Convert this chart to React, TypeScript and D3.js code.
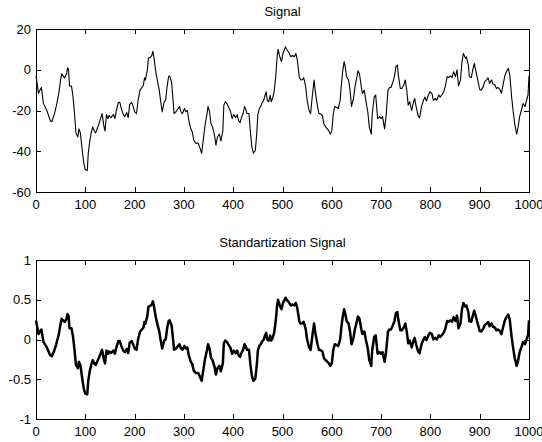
import React from "react";
import * as d3 from "d3";

// Sample positions (sample index) and raw signal values
const sampleX: number[] = [
  0, 3, 5, 8, 11, 15, 22, 29, 32, 37, 41, 46, 50, 52, 55, 58, 62, 64, 66, 68,
  72, 75, 78, 81, 85, 87, 90, 94, 97, 100, 104, 106, 109, 112, 115, 119, 121, 124, 127, 131,
  134, 138, 140, 143, 146, 148, 152, 157, 160, 163, 167, 170, 173, 177, 180, 184, 187, 190, 194, 197,
  200, 204, 207, 211, 214, 218, 220, 222, 226, 228, 231, 235, 237, 239, 243, 246, 250, 253, 256, 260,
  263, 266, 269, 271, 275, 278, 280, 284, 287, 291, 294, 297, 301, 304, 307, 310, 314, 317, 320, 324,
  329, 333, 336, 340, 343, 347, 349, 352, 355, 358, 362, 365, 368, 372, 375, 379, 381, 384, 387, 391,
  394, 398, 401, 405, 408, 411, 414, 416, 420, 423, 425, 428, 432, 435, 438, 441, 445, 448, 450, 453,
  456, 458, 462, 464, 467, 469, 472, 475, 477, 480, 483, 486, 489, 491, 495, 498, 501, 506, 509, 513,
  517, 520, 524, 527, 530, 534, 537, 541, 543, 547, 550, 554, 557, 560, 564, 567, 571, 574, 577, 581,
  584, 587, 591, 594, 597, 600, 603, 606, 610, 613, 617, 619, 622, 625, 627, 630, 634, 637, 640, 644,
  647, 651, 653, 656, 660, 662, 666, 669, 673, 676, 680, 682, 686, 689, 693, 697, 700, 703, 707, 710,
  714, 717, 720, 724, 727, 730, 733, 735, 739, 742, 746, 749, 752, 755, 758, 762, 765, 768, 771, 775,
  778, 782, 786, 789, 792, 796, 799, 803, 806, 810, 813, 817, 820, 824, 827, 830, 834, 837, 841, 844,
  847, 851, 854, 857, 861, 864, 867, 871, 873, 877, 879, 883, 886, 889, 893, 896, 900, 903, 907, 910,
  914, 917, 920, 924, 927, 931, 934, 937, 941, 944, 948, 951, 954, 958, 961, 965, 968, 971, 975, 978,
  981, 985, 988, 992, 995, 998, 1000,
];

const signal: number[] = [
  -3, -8, -11.6, -10, -8.7, -16.5, -20, -25, -25.5, -22, -18, -12, -5, -2, -3, -4, -2, 1, 0, -8,
  -8, -13, -21, -31, -33, -29, -31, -40, -46, -49, -49.5, -41, -35, -31, -28, -30.5, -31, -29, -27, -24,
  -21.5, -28, -30, -22, -24, -22.5, -23.5, -22, -24, -20, -16, -16, -19, -22, -23, -21, -23.5, -17, -16, -18,
  -20.5, -21.5, -15, -10, -9, -7.5, -4, -5, 0, 5.6, 6, 7, 9, 6.4, -1, -5, -10, -15.7, -20.7, -15.7,
  -15, -8, -3.4, -3, -6, -15, -21.5, -20.6, -19.5, -18, -20.6, -21.5, -19, -20.6, -20, -25, -29, -30.5, -34.6, -36,
  -36, -38.7, -41, -33, -27, -21.5, -18, -20.6, -26.5, -28, -32, -37, -33, -31.6, -35, -30, -17.4, -15.7, -16.5, -18.5,
  -20, -24, -22, -23.6, -22, -25, -26, -24, -21.5, -18, -19, -21.5, -21.5, -31, -38, -41, -39.5, -30.5, -22, -19,
  -18, -16.6, -15, -13, -10.8, -15, -15.7, -12.5, -15.7, -14, -10.8, -4, 6, 10, 6, 4, 8, 11.3, 9.8, 8.4,
  6.4, 7, 6.4, 8, 4.8, -3.4, -5, -4.8, -3.8, -8.4, -15, -20, -21.6, -14, -5, -11.6, -18, -21.6, -21.6, -22.5,
  -26.6, -27.9, -29, -30, -31.6, -30, -21.6, -18, -18.5, -19, -15, -8.4, -1, 4, 1.8, -3.4, -5, -10, -18, -14,
  -8.4, -3.4, -0.5, -1.8, -8.7, -11.6, -10, -15, -20.6, -28, -31.6, -21.6, -13.4, -12.4, -24, -23, -24, -23, -29, -23,
  -10, -8.7, -8.7, -6, -3.4, 1.5, 2.3, -2.6, -9.2, -9.2, -7.5, -5, -10, -17.4, -15.7, -20, -16.6, -14, -18, -22.5,
  -23.6, -18, -15, -13.4, -15.4, -12.4, -10.8, -11.6, -15, -14, -15, -12.4, -13.4, -12, -10.8, -8.4, -3.4, -3.8, -3, -3.8,
  -1, -3.4, 0, -8, -5, 4, 8, 5.6, 6.4, 2.3, -3.4, -3.8, 0, 3.1, -1.5, -5, -9.7, -10, -8.4, -6,
  -5, -4, -6.7, -5, -7, -7.5, -9.2, -8.7, -9.7, -11.6, -6.7, -3, -1, 0.7, -2.6, -14, -20.6, -26.6, -31.6, -28,
  -23, -19.5, -16.6, -18, -15, -12.4, -3,
];

// Standardization: shift by the signal's centre and divide by its spread
const CENTER = -15;
const SPREAD = 50;
const standardized: number[] = signal.map((v) => (v - CENTER) / SPREAD);

const xTicks: number[] = [0, 100, 200, 300, 400, 500, 600, 700, 800, 900, 1000];
const yTicksTop: number[] = [-60, -40, -20, 0, 20];
const yTicksBottom: number[] = [-1, -0.5, 0, 0.5, 1];

const FONT = "'Liberation Sans', Arial, Helvetica, sans-serif";
const TICK = 5;

type PanelProps = {
  top: number;
  bottom: number;
  title: string;
  values: number[];
  yDomain: [number, number];
  yTicks: number[];
  lineWidth: number;
};

function Panel({ top, bottom, title, values, yDomain, yTicks, lineWidth }: PanelProps) {
  const left = 36;
  const right = 529;
  const x = d3.scaleLinear().domain([0, 1000]).range([left, right]);
  const y = d3.scaleLinear().domain(yDomain).range([bottom, top]);
  const line = d3
    .line<number>()
    .x((_, i) => x(sampleX[i]))
    .y((d) => y(d));

  return (
    <g>
      <text
        x={(left + right) / 2}
        y={top - 13}
        textAnchor="middle"
        fontFamily={FONT}
        fontSize={13}
        fill="#000"
      >
        {title}
      </text>
      <path
        d={line(values) ?? ""}
        fill="none"
        stroke="#000"
        strokeWidth={lineWidth}
        strokeLinejoin="round"
      />
      <rect
        x={left + 0.5}
        y={top + 0.5}
        width={right - left}
        height={bottom - top}
        fill="none"
        stroke="#000"
        strokeWidth={1}
      />
      {xTicks.map((t) => {
        const px = Math.round(x(t)) + 0.5;
        return (
          <g key={"x" + t}>
            <line x1={px} x2={px} y1={bottom} y2={bottom - TICK} stroke="#000" />
            <line x1={px} x2={px} y1={top} y2={top + TICK} stroke="#000" />
            <text
              x={x(t)}
              y={bottom + 17}
              textAnchor="middle"
              fontFamily={FONT}
              fontSize={13}
              fill="#000"
            >
              {t}
            </text>
          </g>
        );
      })}
      {yTicks.map((t) => {
        const py = Math.round(y(t)) + 0.5;
        return (
          <g key={"y" + t}>
            <line x1={left} x2={left + TICK} y1={py} y2={py} stroke="#000" />
            <line x1={right} x2={right - TICK} y1={py} y2={py} stroke="#000" />
            <text
              x={left - 5}
              y={y(t)}
              dy="0.36em"
              textAnchor="end"
              fontFamily={FONT}
              fontSize={13}
              fill="#000"
            >
              {t}
            </text>
          </g>
        );
      })}
    </g>
  );
}

export default function App() {
  return (
    <svg
      width={542}
      height={442}
      style={{ position: "absolute", left: 0, top: 0, background: "#fff" }}
    >
      <rect x={0} y={0} width={542} height={442} fill="#fff" />
      <Panel
        top={29}
        bottom={192}
        title="Signal"
        values={signal}
        yDomain={[-60, 20]}
        yTicks={yTicksTop}
        lineWidth={1.1}
      />
      <Panel
        top={260}
        bottom={419}
        title="Standartization Signal"
        values={standardized}
        yDomain={[-1, 1]}
        yTicks={yTicksBottom}
        lineWidth={2.5}
      />
    </svg>
  );
}
